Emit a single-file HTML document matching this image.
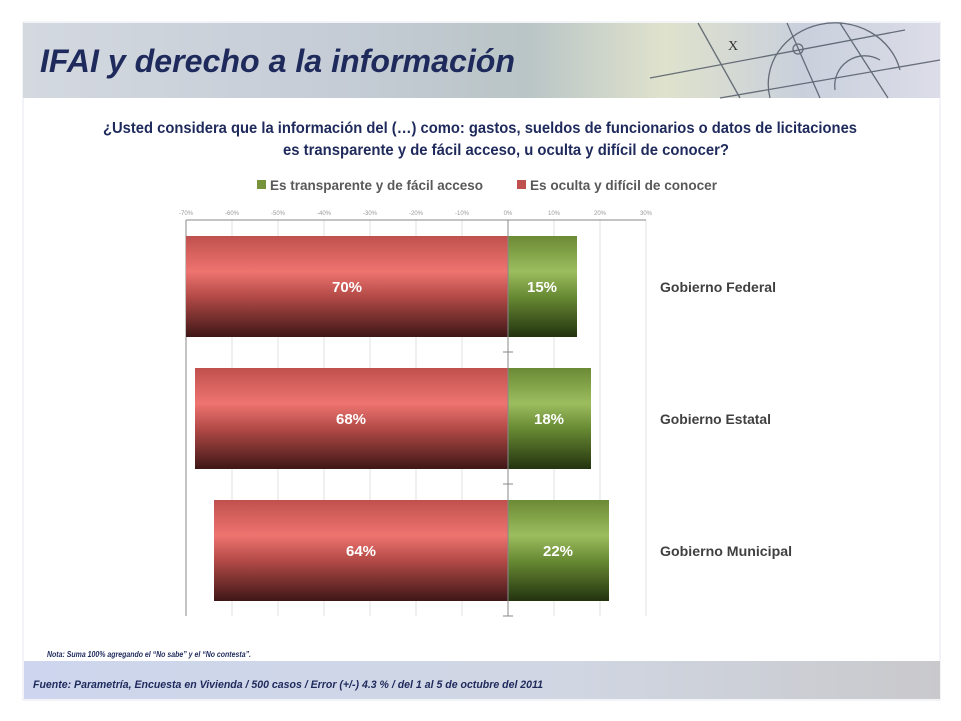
<!DOCTYPE html>
<html><head><meta charset="utf-8"><style>html,body{margin:0;padding:0;background:#fff}svg{display:block}</style></head>
<body>
<svg width="961" height="721" viewBox="0 0 961 721" xmlns="http://www.w3.org/2000/svg" font-family="Liberation Sans, sans-serif">
<defs>
<linearGradient id="hdr" x1="0" y1="0" x2="1" y2="0">
<stop offset="0" stop-color="#d4d9e0"/><stop offset="0.35" stop-color="#c5ccd6"/><stop offset="0.55" stop-color="#b9c5c6"/><stop offset="0.7" stop-color="#dfe2cc"/><stop offset="0.85" stop-color="#c9d0dc"/><stop offset="1" stop-color="#dcdde8"/>
</linearGradient>
<linearGradient id="ftr" x1="0" y1="0" x2="1" y2="0">
<stop offset="0" stop-color="#cdd6ee"/><stop offset="0.6" stop-color="#d0d6e2"/><stop offset="1" stop-color="#c9c9cc"/>
</linearGradient>
<linearGradient id="red" x1="0" y1="0" x2="0" y2="1">
<stop offset="0" stop-color="#c0504d"/><stop offset="0.35" stop-color="#ee7470"/><stop offset="0.6" stop-color="#b34a47"/><stop offset="1" stop-color="#3e1716"/>
</linearGradient>
<linearGradient id="grn" x1="0" y1="0" x2="0" y2="1">
<stop offset="0" stop-color="#6b8a35"/><stop offset="0.35" stop-color="#9cbd5e"/><stop offset="0.6" stop-color="#688a33"/><stop offset="1" stop-color="#23330f"/>
</linearGradient>
</defs>
<rect x="23" y="22" width="917" height="678" fill="#fff" stroke="#e6e9f2"/>
<rect x="23" y="23" width="917" height="75" fill="url(#hdr)"/>
<g stroke="#4a5260" stroke-width="1.3" fill="none" opacity="0.8">
<line x1="698" y1="23" x2="740" y2="98"/><line x1="787" y1="23" x2="820" y2="98"/><line x1="840" y1="23" x2="888" y2="98"/>
<line x1="650" y1="78" x2="905" y2="30"/><line x1="720" y1="98" x2="940" y2="60"/>
<circle cx="798" cy="49" r="5"/><path d="M770 98 A60 55 0 0 1 900 70"/><path d="M835 90 A30 30 0 0 1 880 60"/>
</g>
<text x="728" y="50" font-size="14" fill="#333" font-family="Liberation Serif, serif">X</text>
<text x="40" y="72" font-size="32" font-weight="bold" font-style="italic" fill="#1f2a5c" textLength="475" lengthAdjust="spacingAndGlyphs">IFAI y derecho a la información</text>
<text x="480" y="133" font-size="16" font-weight="bold" fill="#1f2a5c" text-anchor="middle" textLength="754" lengthAdjust="spacingAndGlyphs">¿Usted considera que la información del (…) como: gastos, sueldos de funcionarios o datos de licitaciones</text>
<text x="506" y="155" font-size="16" font-weight="bold" fill="#1f2a5c" text-anchor="middle" textLength="446" lengthAdjust="spacingAndGlyphs">es transparente y de fácil acceso, u oculta y difícil de conocer?</text>
<rect x="257" y="180" width="9" height="9" fill="#77933c"/>
<text x="270" y="190" font-size="14" font-weight="bold" fill="#595959" textLength="213" lengthAdjust="spacingAndGlyphs">Es transparente y de fácil acceso</text>
<rect x="517" y="180" width="9" height="9" fill="#c0504d"/>
<text x="530" y="190" font-size="14" font-weight="bold" fill="#595959" textLength="187" lengthAdjust="spacingAndGlyphs">Es oculta y difícil de conocer</text>
<g stroke="#e0e0e0" stroke-width="1">
<line x1="232" y1="220" x2="232" y2="616"/><line x1="278" y1="220" x2="278" y2="616"/><line x1="324" y1="220" x2="324" y2="616"/><line x1="370" y1="220" x2="370" y2="616"/><line x1="416" y1="220" x2="416" y2="616"/><line x1="462" y1="220" x2="462" y2="616"/><line x1="554" y1="220" x2="554" y2="616"/><line x1="600" y1="220" x2="600" y2="616"/><line x1="646" y1="220" x2="646" y2="616"/>
</g>
<line x1="186" y1="220" x2="646" y2="220" stroke="#888"/>
<line x1="186" y1="220" x2="186" y2="616" stroke="#888"/>
<g font-size="6" fill="#999" text-anchor="middle">
<text x="186" y="215">-70%</text><text x="232" y="215">-60%</text><text x="278" y="215">-50%</text><text x="324" y="215">-40%</text><text x="370" y="215">-30%</text><text x="416" y="215">-20%</text><text x="462" y="215">-10%</text><text x="508" y="215">0%</text><text x="554" y="215">10%</text><text x="600" y="215">20%</text><text x="646" y="215">30%</text>
</g>
<rect x="186" y="236" width="322" height="101" fill="url(#red)"/>
<rect x="508" y="236" width="69" height="101" fill="url(#grn)"/>
<rect x="195" y="368" width="313" height="101" fill="url(#red)"/>
<rect x="508" y="368" width="83" height="101" fill="url(#grn)"/>
<rect x="214" y="500" width="294" height="101" fill="url(#red)"/>
<rect x="508" y="500" width="101" height="101" fill="url(#grn)"/>
<line x1="508" y1="220" x2="508" y2="616" stroke="#888"/>
<g stroke="#888"><line x1="503" y1="352" x2="513" y2="352"/><line x1="503" y1="484" x2="513" y2="484"/><line x1="503" y1="616" x2="513" y2="616"/></g>
<g font-size="15" font-weight="bold" fill="#fff" text-anchor="middle">
<text x="347" y="292">70%</text><text x="542" y="292">15%</text>
<text x="351" y="424">68%</text><text x="549" y="424">18%</text>
<text x="361" y="556">64%</text><text x="558" y="556">22%</text>
</g>
<g font-size="14" font-weight="bold" fill="#404040">
<text x="660" y="292" textLength="116" lengthAdjust="spacingAndGlyphs">Gobierno Federal</text>
<text x="660" y="424" textLength="111" lengthAdjust="spacingAndGlyphs">Gobierno Estatal</text>
<text x="660" y="556" textLength="132" lengthAdjust="spacingAndGlyphs">Gobierno Municipal</text>
</g>
<text x="47" y="657" font-size="8" font-style="italic" font-weight="bold" fill="#1f2a5c" textLength="204" lengthAdjust="spacingAndGlyphs">Nota: Suma 100% agregando el “No sabe” y el “No contesta”.</text>
<rect x="24" y="661" width="916" height="38" fill="url(#ftr)"/>
<text x="33" y="688" font-size="11" font-style="italic" font-weight="bold" fill="#1f2a5c" textLength="510" lengthAdjust="spacingAndGlyphs">Fuente: Parametría, Encuesta en Vivienda / 500 casos / Error (+/-) 4.3 % / del 1 al 5 de octubre del 2011</text>
</svg>
</body></html>
